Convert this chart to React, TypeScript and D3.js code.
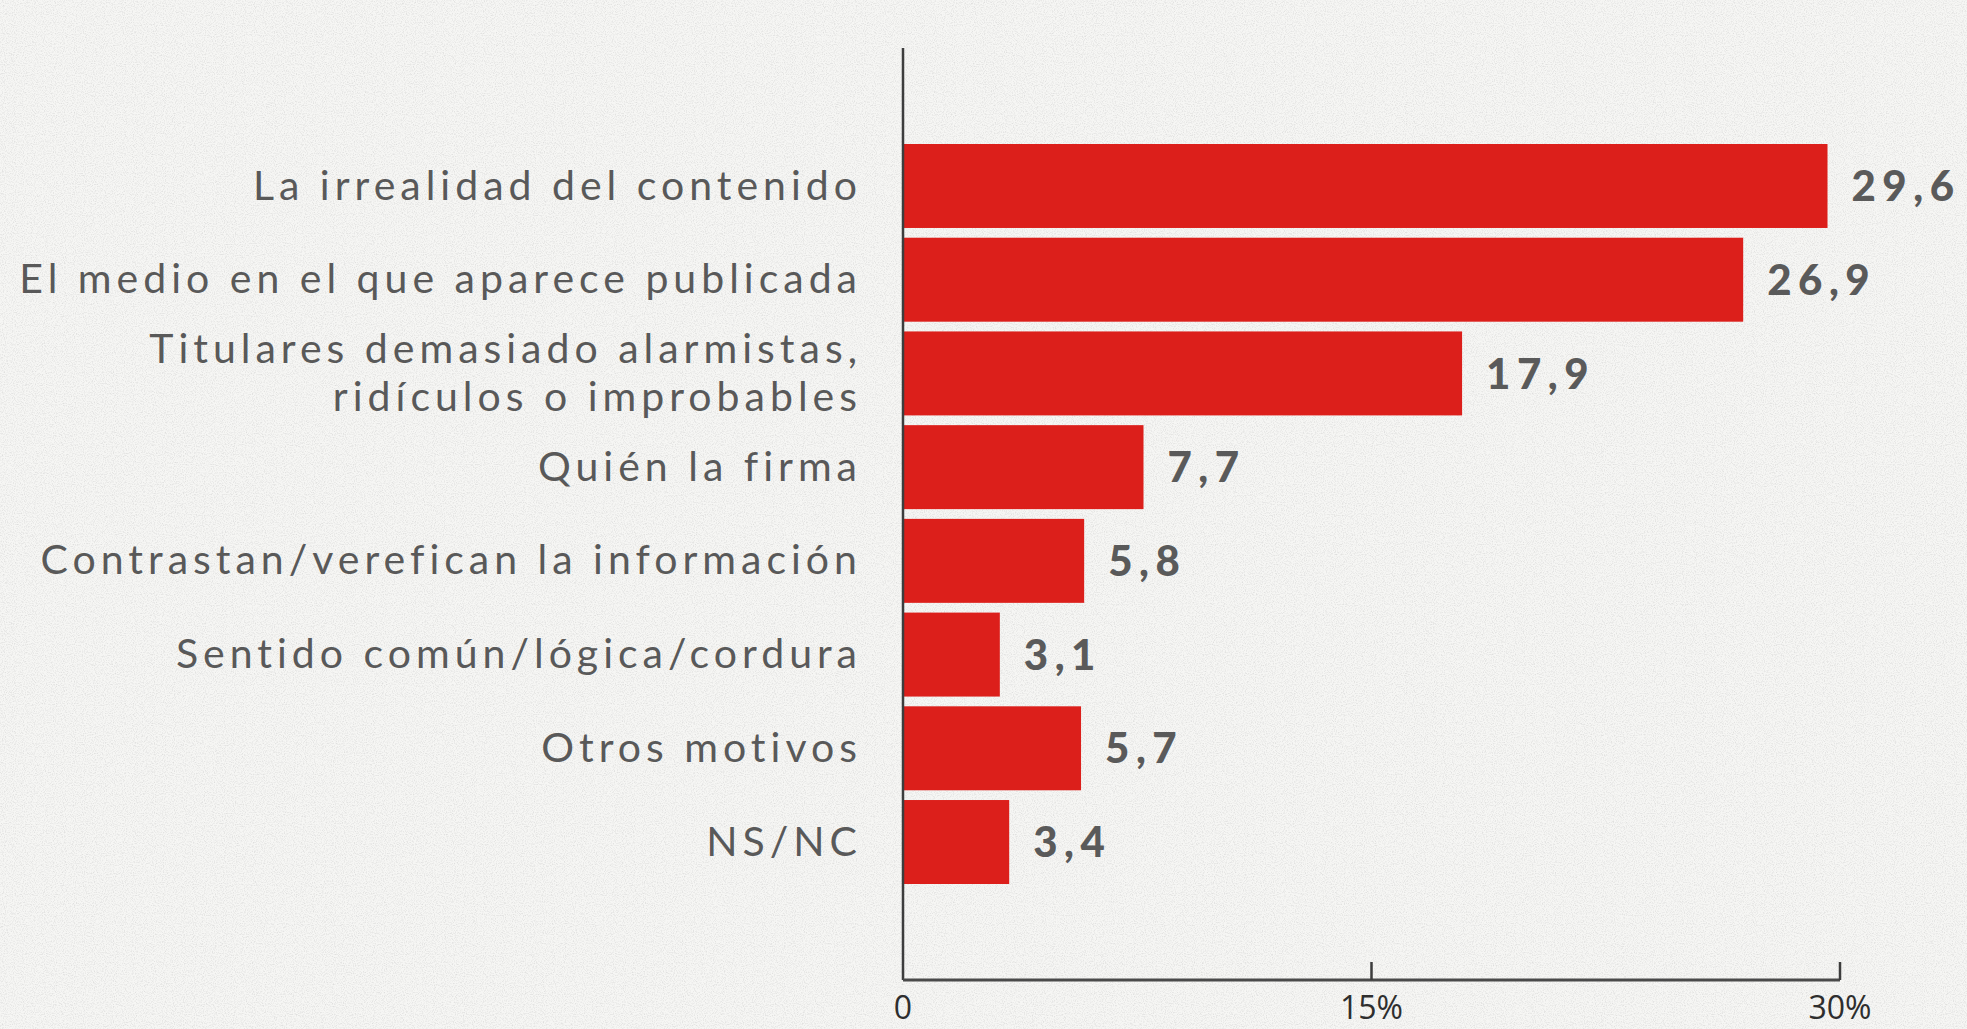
import React from "react";
import * as d3 from "d3";

const categories: string[] = [
  "La irrealidad del contenido",
  "El medio en el que aparece publicada",
  "Titulares demasiado alarmistas,\nridículos o improbables",
  "Quién la firma",
  "Contrastan/verefican la información",
  "Sentido común/lógica/cordura",
  "Otros motivos",
  "NS/NC",
];
const values: number[] = [29.6, 26.9, 17.9, 7.7, 5.8, 3.1, 5.7, 3.4];
const tickValues: number[] = [0, 15, 30];
const tickLabels: string[] = ["0", "15%", "30%"];

const W = 1967;
const H = 1029;

export default function App() {
  const x = d3.scaleLinear().domain([0, 30]).range([903, 1840]);
  const y = d3
    .scaleBand<string>()
    .domain(categories)
    .range([144, 884])
    .paddingInner(0.104)
    .paddingOuter(0);
  const axisY = 980;
  const axisTop = 48;
  const labelRight = 857;
  const labelLS = 5;
  const valueLS = 6.5;
  const fmt = (v: number) => v.toFixed(1).replace(".", ",");
  const textColor = "#595959";

  return (
    <svg
      width={W}
      height={H}
      style={{ position: "absolute", left: 0, top: 0, display: "block" }}
    >
      <defs>
        <filter id="paper" x="0" y="0" width="100%" height="100%">
          <feTurbulence type="fractalNoise" baseFrequency="0.9" numOctaves="2" seed="3" result="n" />
          <feColorMatrix
            in="n"
            type="matrix"
            values="0 0 0 0 0.45  0 0 0 0 0.45  0 0 0 0 0.45  0 0 0 -2.2 1.25"
          />
        </filter>
      </defs>
      <rect x={0} y={0} width={W} height={H} fill="#f6f6f4" />
      <rect x={0} y={0} width={W} height={H} filter="url(#paper)" opacity={0.35} />

      {/* bars */}
      {categories.map((c, i) => (
        <rect
          key={c}
          x={x(0)}
          y={y(c)!}
          width={x(values[i]) - x(0)}
          height={y.bandwidth()}
          fill="#dc1f1b"
        />
      ))}

      {/* axes */}
      <line x1={x(0)} x2={x(0)} y1={axisTop} y2={axisY} stroke="#3d3d3d" strokeWidth={2.5} />
      <line x1={x(0)} x2={x(30)} y1={axisY} y2={axisY} stroke="#4a4a4a" strokeWidth={3} />
      {tickValues.slice(1).map((t) => (
        <line key={t} x1={x(t)} x2={x(t)} y1={axisY} y2={axisY - 18} stroke="#3d3d3d" strokeWidth={2.5} />
      ))}
      {tickValues.map((t, i) => (
        <text
          key={t}
          x={x(t)}
          y={1019}
          textAnchor="middle"
          fontFamily="'Open Sans', sans-serif"
          fontSize={32}
          fill="#2e2e2e"
        >
          {tickLabels[i]}
        </text>
      ))}

      {/* category labels */}
      {categories.map((c) => {
        const lines = c.split("\n");
        const cy = y(c)! + y.bandwidth() / 2;
        const lh = 48;
        const start = cy - ((lines.length - 1) * lh) / 2;
        return (
          <text
            key={c}
            textAnchor="end"
            fontFamily="Lato, sans-serif"
            fontSize={41}
            letterSpacing={labelLS}
            fill={textColor}
          >
            {lines.map((l, j) => (
              <tspan key={j} x={labelRight + labelLS} y={start + j * lh} dy="0.33em">
                {l}
              </tspan>
            ))}
          </text>
        );
      })}

      {/* value labels */}
      {categories.map((c, i) => (
        <text
          key={c}
          x={x(values[i]) + 24}
          y={y(c)! + y.bandwidth() / 2}
          dy="0.36em"
          fontFamily="Lato, sans-serif"
          fontWeight={900}
          fontSize={42}
          letterSpacing={valueLS}
          fill="#5a5a5a"
        >
          {fmt(values[i])}
        </text>
      ))}
    </svg>
  );
}
